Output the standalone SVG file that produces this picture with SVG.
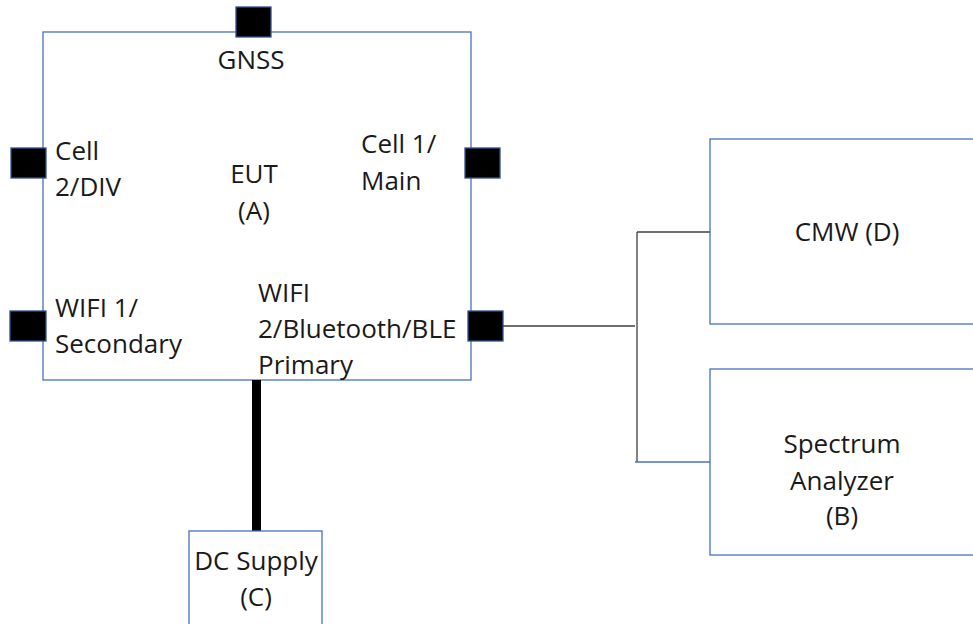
<svg xmlns="http://www.w3.org/2000/svg" width="973" height="624" viewBox="0 0 973 624">
<style>
.box{fill:#fff;stroke:#4472C4;stroke-width:1.3}
.port{fill:#000;stroke:#2F528F;stroke-width:1.3}
.t{font-family:"Open Sans","Liberation Sans",sans-serif;font-size:26px;fill:#1a1a1a}
.m{text-anchor:middle}
.wire{fill:none;stroke:#404040;stroke-width:1.3}
</style>
<rect width="973" height="624" fill="#fff"/>
<g id="eut">
<rect class="box" x="43" y="32" width="428" height="348"/>
<text class="t m" x="251" y="69">GNSS</text>
<text class="t" x="55" y="160">Cell</text>
<text class="t" x="55" y="196">2/DIV</text>
<text class="t m" x="254" y="183">EUT</text>
<text class="t m" x="254" y="220">(A)</text>
<text class="t" x="361" y="153">Cell 1/</text>
<text class="t" x="361" y="190">Main</text>
<text class="t" x="55" y="317">WIFI 1/</text>
<text class="t" x="55" y="353">Secondary</text>
<text class="t" x="258" y="302">WIFI</text>
<text class="t" x="258" y="338">2/Bluetooth/BLE</text>
<text class="t" x="258" y="374">Primary</text>
</g>
<g id="port-gnss"><rect class="port" x="236" y="7" width="35" height="30"/></g>
<g id="port-cell2"><rect class="port" x="11" y="148" width="35" height="30"/></g>
<g id="port-cell1"><rect class="port" x="465" y="148" width="35" height="30"/></g>
<g id="port-wifi1"><rect class="port" x="10" y="311" width="36" height="30"/></g>
<g id="port-wifi2"><rect class="port" x="468" y="311" width="35" height="30"/></g>
<g id="connectors">
<line x1="256.5" y1="380" x2="256.5" y2="531" stroke="#000" stroke-width="9"/>
<path class="wire" d="M503 326 H635 M637 232 V462 M637 232 H710"/>
<line x1="635" y1="462" x2="710" y2="462" stroke="#4472C4" stroke-width="1.3"/>
</g>
<g id="dc">
<rect class="box" x="189" y="531" width="133" height="100"/>
<text class="t m" x="256" y="570">DC Supply</text>
<text class="t m" x="256" y="606">(C)</text>
</g>
<g id="cmw">
<rect class="box" x="710" y="139" width="280" height="185"/>
<text class="t m" x="847" y="241">CMW (D)</text>
</g>
<g id="sa">
<rect class="box" x="710" y="369" width="280" height="186"/>
<text class="t m" x="842" y="453">Spectrum</text>
<text class="t m" x="842" y="490">Analyzer</text>
<text class="t m" x="842" y="525">(B)</text>
</g>
</svg>
